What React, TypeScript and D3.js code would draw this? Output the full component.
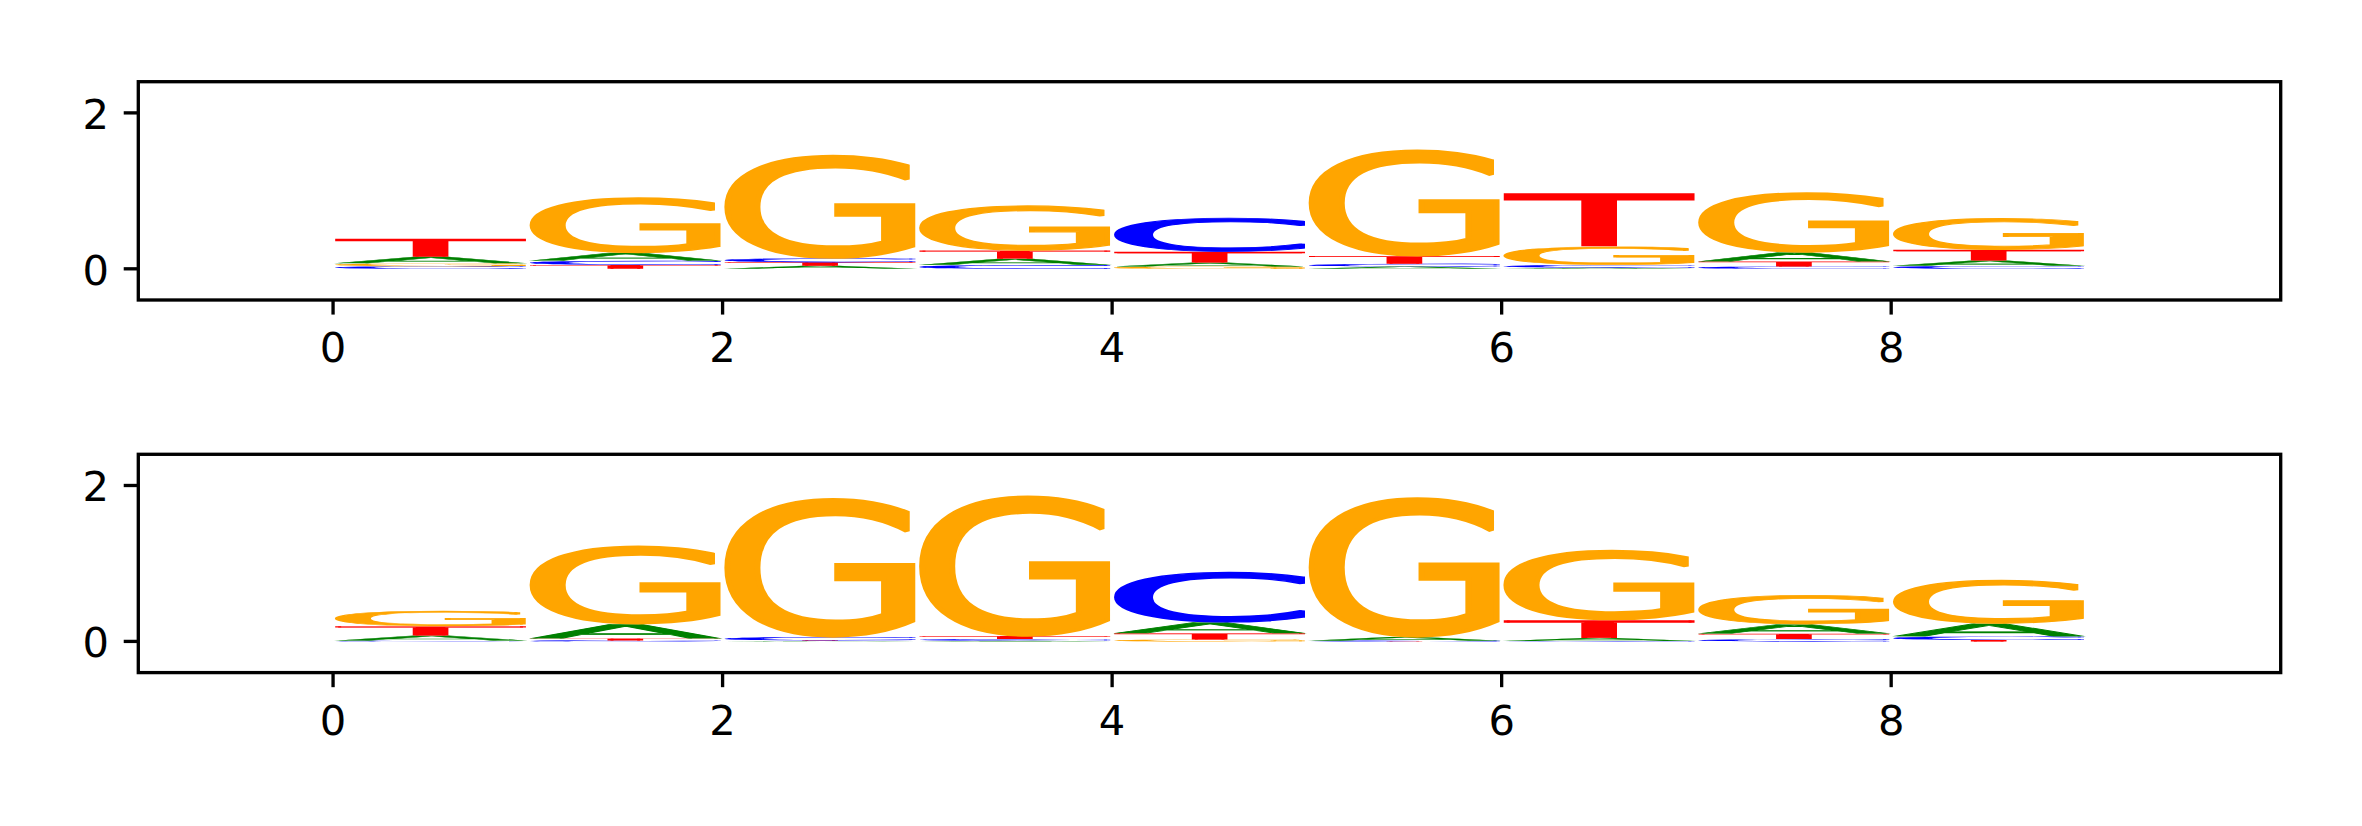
import React, { useMemo } from 'react';
import * as d3 from 'd3';

const positions = [0, 1, 2, 3, 4, 5, 6, 7, 8];
const letters = ['A', 'C', 'G', 'T'];
const letterColors: Record<string, string> = { A: '#008000', C: '#0000FF', G: '#FFA500', T: '#FF0000' };

// Top logo: letter heights per position
const topA = [0.085, 0.1, 0.04, 0.08, 0.05, 0.03, 0.015, 0.115, 0.07];
const topC = [0.033, 0.055, 0.05, 0.05, 0.44, 0.035, 0.035, 0.03, 0.038];
const topG = [0.037, 0.72, 1.34, 0.585, 0.03, 1.38, 0.24, 0.78, 0.41];
const topT = [0.235, 0.05, 0.045, 0.105, 0.14, 0.1, 0.69, 0.065, 0.137];

// Bottom logo: letter heights per position
const botA = [0.065, 0.185, 0.005, 0.01, 0.14, 0.05, 0.04, 0.12, 0.165];
const botC = [0.01, 0.012, 0.045, 0.02, 0.655, 0.005, 0.005, 0.03, 0.045];
const botG = [0.2, 1.02, 1.8, 1.82, 0.025, 1.81, 0.91, 0.38, 0.565];
const botT = [0.12, 0.025, 0.008, 0.04, 0.08, 0.003, 0.23, 0.07, 0.02];

const xTicks = [0, 2, 4, 6, 8];
const yTicks = [0, 2];
const xDomain = [-1, 10];
const yDomain = [-0.4, 2.4];

const W = 2362;
const H = 826;
const axLeft = 138.3;
const axRight = 2280.7;
const panelTops = [81.7, 454.3];
const axHeight = 218.3;
const LW = 3.33;
const TICK = 14.58;
const FS = 41.67;
const GLYPH_FONT = '"DejaVu Sans"';
const GLYPH_STROKE = 2; // thickening in glyph units (font-size 100)

type Metric = { L: number; R: number; A: number; D: number };

function measureGlyphs(): Record<string, Metric> {
  const out: Record<string, Metric> = {};
  const canvas = document.createElement('canvas');
  const ctx = canvas.getContext('2d')!;
  ctx.font = `100px ${GLYPH_FONT}`;
  const h = GLYPH_STROKE / 2;
  for (const ch of letters) {
    const m = ctx.measureText(ch);
    out[ch] = {
      L: m.actualBoundingBoxLeft + h,
      R: m.actualBoundingBoxRight + h,
      A: m.actualBoundingBoxAscent + h,
      D: m.actualBoundingBoxDescent + h,
    };
  }
  return out;
}

function Logo({ top, data, metrics }: { top: number; data: Record<string, number[]>; metrics: Record<string, Metric> }) {
  const x = d3.scaleLinear().domain(xDomain).range([axLeft, axRight]);
  const y = d3.scaleLinear().domain(yDomain).range([top + axHeight, top]);
  const glyphs: React.ReactNode[] = [];
  positions.forEach((p, i) => {
    const stack = letters
      .map((ch) => ({ ch, v: data[ch][i] }))
      .sort((a, b) => a.v - b.v);
    let base = 0;
    stack.forEach(({ ch, v }) => {
      const x0 = x(p);
      const x1 = x(p + 1);
      const yTop = y(base + v);
      const yBot = y(base);
      base += v;
      const m = metrics[ch];
      const gw = m.L + m.R;
      const gh = m.A + m.D;
      const sx = (x1 - x0) / gw;
      const sy = (yBot - yTop) / gh;
      glyphs.push(
        <text
          key={`${p}-${ch}`}
          x={0}
          y={0}
          fontFamily={GLYPH_FONT}
          fontSize={100}
          fill={letterColors[ch]}
          stroke={letterColors[ch]}
          strokeWidth={GLYPH_STROKE}
          strokeLinejoin="miter"
          strokeMiterlimit={2}
          transform={`translate(${x0},${yTop}) scale(${sx},${sy}) translate(${m.L},${m.A})`}
        >
          {ch}
        </text>
      );
    });
  });
  const bottom = top + axHeight;
  return (
    <g>
      {glyphs}
      <rect x={axLeft} y={top} width={axRight - axLeft} height={axHeight} fill="none" stroke="#000" strokeWidth={LW} />
      {xTicks.map((t) => (
        <g key={`xt${t}`}>
          <line x1={x(t)} x2={x(t)} y1={bottom} y2={bottom + TICK} stroke="#000" strokeWidth={LW} />
          <text x={x(t)} y={bottom + 62} textAnchor="middle" fontFamily="DejaVu Sans" fontSize={FS} fill="#000">
            {t}
          </text>
        </g>
      ))}
      {yTicks.map((t) => (
        <g key={`yt${t}`}>
          <line x1={axLeft - TICK} x2={axLeft} y1={y(t)} y2={y(t)} stroke="#000" strokeWidth={LW} />
          <text x={axLeft - 2 * TICK} y={y(t) + 16} textAnchor="end" fontFamily="DejaVu Sans" fontSize={FS} fill="#000">
            {t}
          </text>
        </g>
      ))}
    </g>
  );
}

export default function App() {
  const metrics = useMemo(() => measureGlyphs(), []);
  const topData = { A: topA, C: topC, G: topG, T: topT };
  const botData = { A: botA, C: botC, G: botG, T: botT };
  return (
    <div style={{ position: 'absolute', left: 0, top: 0, width: W, height: H, background: '#fff' }}>
      <svg width={W} height={H} viewBox={`0 0 ${W} ${H}`} style={{ display: 'block' }}>
        <rect x={0} y={0} width={W} height={H} fill="#fff" />
        <Logo top={panelTops[0]} data={topData} metrics={metrics} />
        <Logo top={panelTops[1]} data={botData} metrics={metrics} />
      </svg>
    </div>
  );
}
